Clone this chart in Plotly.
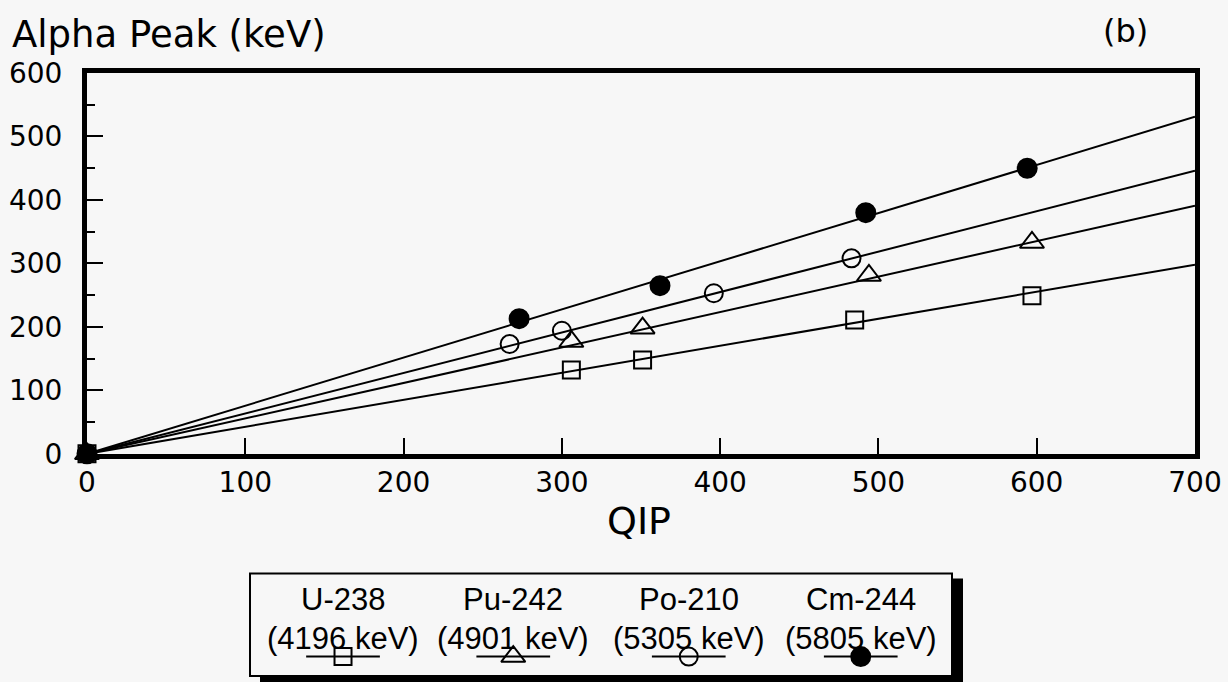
import plotly.graph_objects as go

# ---------------- data ----------------
series_names = ["U-238", "Pu-242", "Po-210", "Cm-244"]
series_energy = ["(4196 keV)", "(4901 keV)", "(5305 keV)", "(5805 keV)"]

u238_qip = [0, 306, 351, 485, 597]
u238_peak = [0, 132, 148, 211, 249]

pu242_qip = [0, 306, 351, 494, 597]
pu242_peak = [0, 177, 198, 281, 333]

po210_qip = [0, 267, 300, 396, 483]
po210_peak = [0, 173, 194, 253, 308]

cm244_qip = [0, 273, 362, 492, 594]
cm244_peak = [0, 213, 265, 380, 450]

# fitted lines through origin: value of the fit at QIP = 700
fit_qip = [0, 700]
fit_end = [298, 391, 446, 531]

x_ticks = [0, 100, 200, 300, 400, 500, 600, 700]
y_ticks = [0, 100, 200, 300, 400, 500, 600]

# ---------------- styling ----------------
BG = "#f7f7f7"
FONT = "DejaVu Sans"
LFONT = "Liberation Sans"

symbols = ["square-open", "triangle-up-open", "circle-open", "circle"]
sizes = [17, 21, 18, 19]

# page layout (body margin removed in post_script)
SY = 698.0 / 682.0          # vertical page scale
W, H = 1228, 698
ML, MR = 87, 33
MT = 71 * SY
MB = 0
PW = W - ML - MR
PH = H - MT - MB


def px_x(p):
    """target pixel x -> paper x"""
    return (p - ML) / PW


def px_y(p):
    """target pixel y -> paper y"""
    return (H - MB - p * SY) / PH


qips = [u238_qip, pu242_qip, po210_qip, cm244_qip]
peaks = [u238_peak, pu242_peak, po210_peak, cm244_peak]

fig = go.Figure()

# fit lines
for i in range(4):
    fig.add_trace(go.Scatter(
        x=fit_qip, y=[0, fit_end[i]], mode="lines",
        line=dict(color="black", width=2), showlegend=False, hoverinfo="skip"))

# data points
for i in range(4):
    fig.add_trace(go.Scatter(
        x=qips[i], y=peaks[i], mode="markers", name=series_names[i],
        marker=dict(symbol=symbols[i], size=sizes[i], color="black",
                    line=dict(color="black", width=2)),
        cliponaxis=False, showlegend=False))

# legend keys (custom legend laid out below the plot)
LEG_TOP, LEG_BOT = 574, 677
key_x = [0.53, 1.5, 2.5, 3.48]
key_y = (LEG_BOT - 657.5) / (LEG_BOT - LEG_TOP)
for i in range(4):
    fig.add_trace(go.Scatter(
        x=[key_x[i]], y=[key_y], mode="markers", xaxis="x2", yaxis="y2",
        marker=dict(symbol=symbols[i], size=sizes[i], color="black",
                    line=dict(color="black", width=2)),
        cliponaxis=False, showlegend=False, hoverinfo="skip"))

shapes = []
# legend shadow + box
shapes.append(dict(type="rect", xref="paper", yref="paper",
                   x0=px_x(260), x1=px_x(963), y0=px_y(690), y1=px_y(579),
                   fillcolor="black", line=dict(width=0), layer="below"))
shapes.append(dict(type="rect", xref="paper", yref="paper",
                   x0=px_x(250), x1=px_x(952), y0=px_y(LEG_BOT), y1=px_y(LEG_TOP),
                   fillcolor=BG, line=dict(color="black", width=2), layer="below"))
for i in range(4):
    shapes.append(dict(type="line", xref="x2", yref="y2",
                       x0=key_x[i] - 0.21, x1=key_x[i] + 0.21, y0=key_y, y1=key_y,
                       line=dict(color="black", width=2)))

annotations = []
for i in range(4):
    annotations.append(dict(x=key_x[i], y=px_y(600), xref="x2", yref="paper",
                            text=series_names[i], showarrow=False,
                            font=dict(family=LFONT, size=31, color="black"),
                            xanchor="center", yanchor="middle"))
    annotations.append(dict(x=key_x[i], y=px_y(639), xref="x2", yref="paper",
                            text=series_energy[i], showarrow=False,
                            font=dict(family=LFONT, size=31, color="black"),
                            xanchor="center", yanchor="middle"))

annotations.append(dict(x=px_x(10), y=px_y(32), xref="paper", yref="paper",
                        text="Alpha Peak (keV)", showarrow=False,
                        font=dict(family=FONT, size=37, color="black"),
                        xanchor="left", yanchor="middle"))
annotations.append(dict(x=px_x(1125), y=px_y(29), xref="paper", yref="paper",
                        text="(b)", showarrow=False,
                        font=dict(family=FONT, size=32, color="black"),
                        xanchor="center", yanchor="middle"))
annotations.append(dict(x=px_x(639), y=px_y(521), xref="paper", yref="paper",
                        text="QIP", showarrow=False,
                        font=dict(family=FONT, size=38, color="black"),
                        xanchor="center", yanchor="middle"))

fig.update_layout(
    width=W, height=H,
    margin=dict(l=ML, r=MR, t=MT, b=MB, pad=0),
    paper_bgcolor=BG, plot_bgcolor=BG,
    font=dict(family=FONT, size=28, color="black"),
    showlegend=False,
    xaxis=dict(range=[0, 700], domain=[0, 1], anchor="y",
               tickvals=x_ticks, ticks="inside", ticklen=16, tickwidth=2,
               tickcolor="black", showline=True, linecolor="black", linewidth=5,
               mirror=True, showgrid=False, zeroline=False,
               tickfont=dict(family=FONT, size=28, color="black"),
               ticklabelstandoff=0),
    yaxis=dict(range=[0, 600], domain=[px_y(453.75), 1], anchor="x",
               tickvals=y_ticks, ticks="inside", ticklen=16, tickwidth=2,
               tickcolor="black", showline=True, linecolor="black", linewidth=5,
               mirror=True, showgrid=False, zeroline=False,
               minor=dict(ticks="inside", ticklen=8, tickwidth=2, dtick=50,
                          tickcolor="black", showgrid=False),
               tickfont=dict(family=FONT, size=28, color="black"),
               ticklabelstandoff=14),
    xaxis2=dict(range=[0, 4], domain=[px_x(250), px_x(952)], anchor="y2",
                visible=False, fixedrange=True),
    yaxis2=dict(range=[0, 1], domain=[px_y(LEG_BOT), px_y(LEG_TOP)], anchor="x2",
                visible=False, fixedrange=True),
    shapes=shapes,
    annotations=annotations,
)

fig.write_html(
    "out.html",
    config={"displayModeBar": False},
    post_script=(
        "document.documentElement.style.margin='0';"
        "document.body.style.margin='0';"
        "document.body.style.padding='0';"
        "document.body.style.overflow='hidden';"
        "document.documentElement.style.overflow='hidden';"
        "document.documentElement.style.background='" + BG + "';"
        "document.body.style.background='" + BG + "';"
    ),
)
